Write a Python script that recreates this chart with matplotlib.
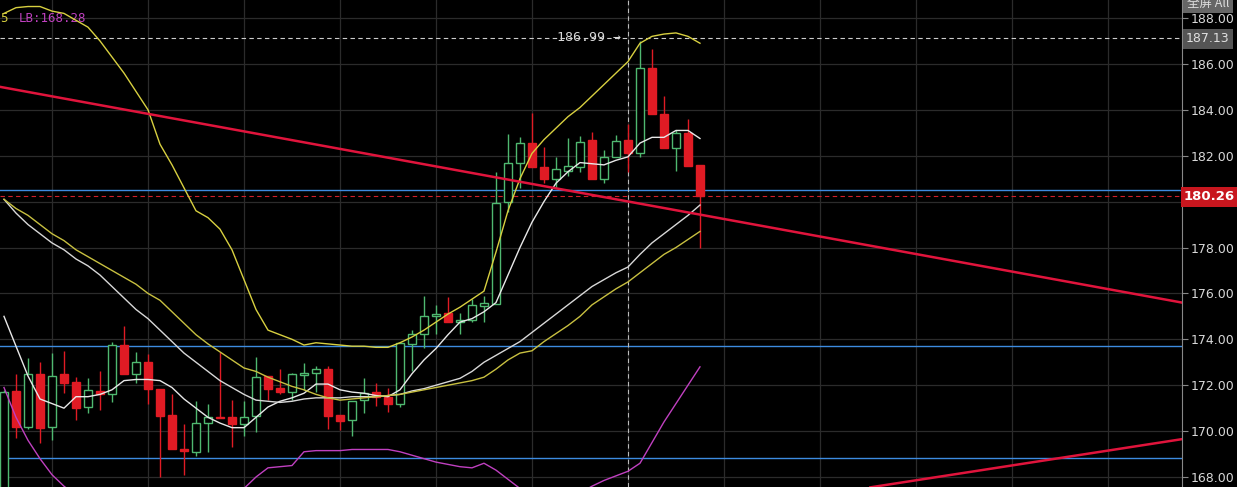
import matplotlib
matplotlib.use("Agg")
import matplotlib.pyplot as plt
import numpy as np

opens = [167.5,171.75,170.2,172.5,170.2,172.5,172.15,171.05,171.75,171.6,173.75,172.5,173.0,171.85,170.7,169.2,169.1,170.35,170.6,170.6,170.3,170.65,172.4,171.9,171.7,172.45,172.55,172.7,170.7,170.5,171.35,171.7,171.5,171.2,173.8,174.25,175.0,175.15,174.75,174.85,175.45,175.55,180.0,181.7,182.55,181.5,180.98,181.35,181.5,182.7,180.98,181.95,182.7,182.1,185.8,183.8,182.35,183.0,181.6]
closes = [171.7,170.2,172.5,170.15,172.4,172.1,171.0,171.8,171.6,173.75,172.5,173.0,171.85,170.65,169.2,169.15,170.35,170.6,170.55,170.3,170.6,172.35,171.85,171.7,172.5,172.55,172.7,170.65,170.45,171.3,171.65,171.5,171.2,173.85,174.25,175.0,175.1,174.75,174.85,175.5,175.6,179.95,181.7,182.55,181.5,180.98,181.4,181.55,182.6,180.98,181.95,182.65,182.1,185.8,183.8,182.35,183.0,181.55,180.26]
highs = [171.8,172.5,173.2,173.0,173.4,173.5,172.35,172.3,172.6,173.9,174.6,173.45,173.35,171.85,171.6,170.3,171.3,171.2,173.45,171.35,171.3,173.25,172.4,172.7,172.55,172.95,172.85,172.85,170.7,171.3,172.3,172.1,171.9,173.85,174.4,175.9,175.5,175.85,175.15,175.75,175.9,181.3,182.95,182.8,183.85,182.4,181.95,182.75,182.85,183.05,182.25,182.9,183.4,186.99,186.65,184.6,183.1,183.6,181.6]
lows = [167.4,169.7,170.1,169.5,169.6,171.65,170.5,170.8,170.9,171.25,172.5,172.1,171.2,168.0,169.2,168.1,168.9,169.1,170.55,169.3,169.8,169.95,171.35,171.6,171.35,171.8,171.7,170.1,170.05,169.8,170.8,171.1,170.85,171.05,172.6,173.6,174.25,174.75,174.25,174.75,174.75,175.55,179.55,180.6,181.5,180.8,180.6,181.1,181.3,180.98,180.8,181.95,181.3,181.95,183.8,182.35,181.35,181.55,178.0]

bb_upper = [188.2,188.45,188.5,188.5,188.3,188.2,187.9,187.6,187.0,186.3,185.6,184.8,184.0,182.5,181.6,180.6,179.6,179.3,178.8,177.9,176.6,175.3,174.4,174.2,174.0,173.75,173.85,173.8,173.75,173.7,173.7,173.65,173.65,173.85,174.1,174.4,174.75,175.1,175.4,175.75,176.1,177.8,179.6,181.0,182.1,182.7,183.2,183.7,184.1,184.6,185.1,185.6,186.1,186.9,187.2,187.3,187.35,187.2,186.9]
ma_fast = [175.0,173.7,172.4,171.4,171.2,171.0,171.5,171.5,171.6,171.8,172.2,172.25,172.25,172.2,171.9,171.4,171.0,170.6,170.35,170.15,170.15,170.6,171.05,171.3,171.45,171.65,172.05,172.05,171.8,171.7,171.65,171.55,171.5,171.8,172.5,173.1,173.6,174.2,174.75,174.9,175.2,175.6,176.8,178.0,179.1,180.0,180.8,181.3,181.7,181.65,181.6,181.8,181.95,182.55,182.8,182.8,183.1,183.1,182.75]
ma_mid = [180.1,179.5,179.0,178.6,178.2,177.9,177.5,177.2,176.8,176.3,175.8,175.3,174.9,174.4,173.9,173.4,173.0,172.6,172.2,171.9,171.6,171.35,171.3,171.25,171.3,171.4,171.45,171.45,171.45,171.5,171.5,171.5,171.55,171.6,171.75,171.85,172.0,172.15,172.3,172.6,173.0,173.3,173.6,173.9,174.3,174.7,175.1,175.5,175.9,176.3,176.6,176.9,177.15,177.7,178.2,178.6,179.0,179.4,179.85]
ma_slow = [180.1,179.7,179.4,179.0,178.6,178.3,177.9,177.6,177.3,177.0,176.7,176.4,176.0,175.7,175.2,174.7,174.2,173.8,173.45,173.1,172.75,172.6,172.35,172.15,171.95,171.8,171.6,171.45,171.35,171.4,171.45,171.5,171.55,171.6,171.7,171.8,171.9,172.0,172.1,172.2,172.35,172.7,173.1,173.4,173.5,173.9,174.25,174.6,175.0,175.5,175.85,176.2,176.5,176.9,177.3,177.7,178.0,178.35,178.7]
bb_lower = [171.9,170.6,169.6,168.8,168.1,167.6,167.2,166.8,166.5,166.3,166.2,166.2,166.2,166.2,166.3,166.4,166.6,166.8,167.0,167.2,167.5,168.0,168.4,168.45,168.5,169.1,169.15,169.15,169.15,169.2,169.2,169.2,169.2,169.1,168.95,168.8,168.65,168.55,168.45,168.4,168.6,168.3,167.9,167.5,167.2,167.0,167.0,167.1,167.3,167.6,167.85,168.05,168.25,168.6,169.5,170.4,171.2,172.0,172.8]

blue_levels = [180.5, 173.7, 168.85]
last_price = 180.26
high_marker = 187.13
high_label = "186.99"
trend1_x = [-0.33, 98.17]; trend1_y = [185.0, 175.6]
trend2_x = [72.2, 98.17]; trend2_y = [167.55, 169.65]
yticks = [168, 170, 172, 174, 176, 178, 180, 182, 184, 186, 188]

BG = "black"
GREEN = "#4fb870"
RED = "#e01b24"
fig = plt.figure(figsize=(12.37, 4.87), dpi=100, facecolor=BG)
ax = fig.add_axes([0, 0, 1182/1237, 1], facecolor=BG)
ax.set_xlim(-0.333, 98.17)
ax.set_ylim(167.565, 188.784)

for v in yticks:
    ax.axhline(v, color="#2b2b2b", lw=0.9, zorder=0)
for i in range(4, 99, 8):
    ax.axvline(i, color="#2b2b2b", lw=0.9, zorder=0)

x = np.arange(len(opens))
for lv in blue_levels:
    ax.axhline(lv, color="#3d8be0", lw=1.0, zorder=1)
ax.axhline(last_price, color="#d0202a", lw=0.8, ls=(0, (4, 3)), zorder=1)
ax.axhline(high_marker, color="#cccccc", lw=0.8, ls=(0, (4, 3)), zorder=1)
ax.axvline(52, color="#bbbbbb", lw=0.8, ls=(0, (4, 3)), zorder=1)

w = 0.7
for i in x:
    o, c, h, l = opens[i], closes[i], highs[i], lows[i]
    up = c >= o
    col = GREEN if up else RED
    ax.vlines(i, l, h, color=col, lw=1.0, zorder=3)
    bot, top = min(o, c), max(o, c)
    ht = max(top - bot, 0.06)
    ax.bar(i, ht, bottom=bot, width=w, color=BG if up else RED, edgecolor=col, lw=1.0, zorder=4)

ax.plot(x, bb_upper, color="#d8d040", lw=1.0, zorder=5)
ax.plot(x, ma_fast, color="#e8e8e8", lw=1.0, zorder=5)
ax.plot(x, ma_mid, color="#d8d8d8", lw=1.0, zorder=5)
ax.plot(x, ma_slow, color="#c8c040", lw=1.0, zorder=5)
ax.plot(x, bb_lower, color="#c040c0", lw=1.0, zorder=5)
ax.plot(trend1_x, trend1_y, color="#e0143c", lw=1.8, zorder=6)
ax.plot(trend2_x, trend2_y, color="#e0143c", lw=1.8, zorder=6)

ax.text(51.4, high_marker, high_label + " \u2192", color="#d8d8d8", fontsize=9.5, family="DejaVu Sans Mono",
        ha="right", va="center", zorder=7)
ax.text(-0.33, 187.97, "5", color="#d8d040", fontsize=9, family="DejaVu Sans Mono", va="center")
ax.text(1.2, 187.97, "LB:168.28", color="#c040c0", fontsize=9, family="DejaVu Sans Mono", va="center")

for s in ["top", "left", "bottom"]:
    ax.spines[s].set_visible(False)
ax.spines["right"].set_color("#888888")
ax.set_xticks([])
ax.yaxis.tick_right()
ax.set_yticks(yticks)
ax.set_yticklabels([f"{v:.2f}" for v in yticks])
ax.tick_params(axis="y", colors="#888888", labelcolor="#d8d8d8", labelsize=9, length=4, pad=2)

fig.text(1184/1237, 1 - (197/487), f"{last_price:.2f}", color="white", fontsize=9.5, fontweight="bold",
         va="center", ha="left", bbox=dict(boxstyle="square,pad=0.25", fc="#c8161e", ec="none"))
fig.text(1186/1237, 1 - (39/487), f"{high_marker:.2f}", color="#e0e0e0", fontsize=9,
         va="center", ha="left", bbox=dict(boxstyle="square,pad=0.25", fc="#555555", ec="none"))
fig.text(1187/1237, 1 - (3/487), "全屏 All", color="#dddddd", fontsize=9, family=["Noto Sans CJK SC", "DejaVu Sans"],
         va="center", ha="left", bbox=dict(boxstyle="square,pad=0.3", fc="#666666", ec="none"))

fig.savefig("out.png", dpi=100, facecolor=BG)
